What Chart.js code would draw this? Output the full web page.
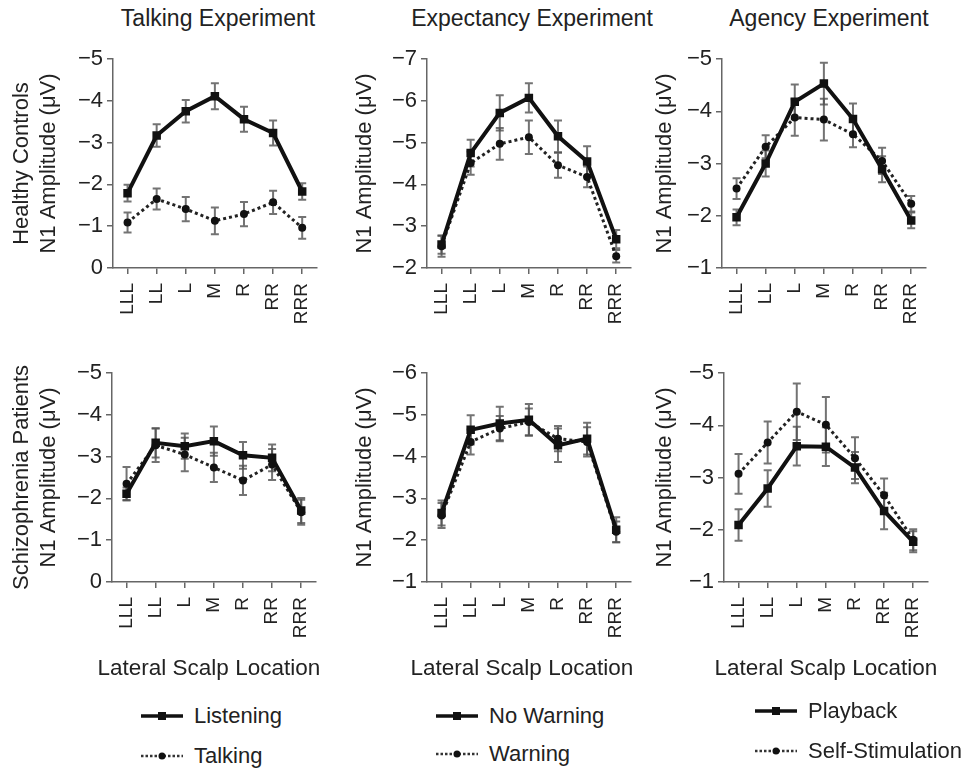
<!DOCTYPE html>
<html>
<head>
<meta charset="utf-8">
<title>N1 amplitude by lateral scalp location</title>
<script src="https://cdn.jsdelivr.net/npm/chart.js@4.4.1/dist/chart.umd.min.js"></script>
<style>
  body { margin: 0; background: #fff; font-family: "Liberation Sans", Arial, sans-serif; color: #222; }
  #wrap { position: relative; width: 969px; height: 768px; overflow: hidden; }
  #wrap canvas { position: absolute; }
  .coltitle { position: absolute; top: 5px; font-size: 23px; white-space: nowrap; transform: translateX(-50%); }
  .leg { position: absolute; height: 30px; line-height: 30px; font-size: 22px; white-space: nowrap; }
  .leg svg { vertical-align: top; margin-right: 11px; }
</style>
</head>
<body>
<div id="wrap">
  <div class="coltitle" style="left:218px">Talking Experiment</div>
  <div class="coltitle" style="left:532px">Expectancy Experiment</div>
  <div class="coltitle" style="left:829px">Agency Experiment</div>
</div>
<script>
// lateral scalp locations (x categories)
var locations = ['LLL', 'LL', 'L', 'M', 'R', 'RR', 'RRR'];

// healthy controls
var hcListening     = [-1.79, -3.17, -3.75, -4.11, -3.56, -3.23, -1.83];
var hcListeningErr  = [0.20, 0.27, 0.27, 0.31, 0.30, 0.30, 0.20];
var hcTalking       = [-1.09, -1.65, -1.41, -1.13, -1.29, -1.57, -0.96];
var hcTalkingErr    = [0.24, 0.25, 0.29, 0.32, 0.29, 0.28, 0.26];

var hcNoWarning     = [-2.56, -4.75, -5.71, -6.07, -5.15, -4.55, -2.69];
var hcNoWarningErr  = [0.22, 0.32, 0.42, 0.35, 0.38, 0.36, 0.22];
var hcWarning       = [-2.52, -4.51, -4.97, -5.13, -4.46, -4.18, -2.28];
var hcWarningErr    = [0.25, 0.28, 0.38, 0.40, 0.30, 0.25, 0.15];

var hcPlayback      = [-1.97, -3.00, -4.18, -4.53, -3.85, -2.89, -1.91];
var hcPlaybackErr   = [0.15, 0.25, 0.33, 0.40, 0.30, 0.25, 0.15];
var hcSelfStim      = [-2.52, -3.32, -3.88, -3.84, -3.56, -3.05, -2.23];
var hcSelfStimErr   = [0.20, 0.22, 0.35, 0.40, 0.25, 0.25, 0.15];

// schizophrenia patients
var szListening     = [-2.11, -3.33, -3.25, -3.37, -3.03, -2.97, -1.71];
var szListeningErr  = [0.15, 0.35, 0.30, 0.35, 0.32, 0.32, 0.30];
var szTalking       = [-2.35, -3.27, -3.05, -2.74, -2.43, -2.81, -1.67];
var szTalkingErr    = [0.40, 0.40, 0.40, 0.35, 0.35, 0.37, 0.30];

var szNoWarning     = [-2.65, -4.64, -4.79, -4.88, -4.27, -4.43, -2.25];
var szNoWarningErr  = [0.30, 0.35, 0.40, 0.38, 0.40, 0.38, 0.30];
var szWarning       = [-2.59, -4.35, -4.67, -4.83, -4.43, -4.35, -2.20];
var szWarningErr    = [0.30, 0.30, 0.30, 0.32, 0.30, 0.35, 0.25];

var szPlayback      = [-2.09, -2.79, -3.60, -3.59, -3.19, -2.36, -1.77];
var szPlaybackErr   = [0.30, 0.35, 0.37, 0.37, 0.30, 0.35, 0.20];
var szSelfStim      = [-3.07, -3.67, -4.26, -4.01, -3.37, -2.66, -1.81];
var szSelfStimErr   = [0.38, 0.40, 0.54, 0.53, 0.40, 0.32, 0.20];

var FONT = '"Liberation Sans", Arial, sans-serif';
var INK = '#222';
var AXIS = '#666';

// error bars drawn under the lines
var errorBars = {
  id: 'errorBars',
  beforeDatasetsDraw: function(chart) {
    var ctx = chart.ctx;
    var yScale = chart.scales.y;
    chart.data.datasets.forEach(function(ds, i) {
      var meta = chart.getDatasetMeta(i);
      ctx.save();
      ctx.strokeStyle = 'rgba(80,80,80,0.8)';
      ctx.lineWidth = 2;
      meta.data.forEach(function(pt, j) {
        var y1 = yScale.getPixelForValue(ds.data[j] - ds.errors[j]);
        var y2 = yScale.getPixelForValue(ds.data[j] + ds.errors[j]);
        ctx.beginPath();
        ctx.moveTo(pt.x, y1); ctx.lineTo(pt.x, y2);
        ctx.moveTo(pt.x - 4, y1); ctx.lineTo(pt.x + 4, y1);
        ctx.moveTo(pt.x - 4, y2); ctx.lineTo(pt.x + 4, y2);
        ctx.stroke();
      });
      ctx.restore();
    });
  }
};

// x caption under the rotated ticks; drawn without the scale's maxWidth squeeze
var xCaption = {
  id: 'xCaption',
  afterDraw: function(chart, args, opts) {
    if (!opts.text) return;
    var ctx = chart.ctx, area = chart.chartArea;
    ctx.save();
    ctx.font = '22.5px ' + FONT;
    ctx.fillStyle = INK;
    ctx.textAlign = 'center';
    ctx.textBaseline = 'middle';
    ctx.fillText(opts.text, (area.left + area.right) / 2 + (opts.dx || 0), area.bottom + 87);
    ctx.restore();
  }
};

function solidSet(label, data, errors) {
  return {
    label: label, data: data, errors: errors,
    borderColor: '#111', borderWidth: 4,
    pointStyle: 'rect', pointRadius: 6, pointBackgroundColor: '#111', pointBorderWidth: 0,
    tension: 0
  };
}
function dottedSet(label, data, errors) {
  return {
    label: label, data: data, errors: errors,
    borderColor: '#222', borderWidth: 3, borderDash: [3, 3],
    pointStyle: 'circle', pointRadius: 4, pointBackgroundColor: '#111', pointBorderWidth: 0,
    tension: 0
  };
}

function minusLabel(v) {
  return v < 0 ? '\u2212' + Math.abs(v) : String(v);
}

function makePanel(p) {
  var canvas = document.createElement('canvas');
  canvas.width = p.width;
  canvas.height = p.height;
  canvas.style.left = p.left + 'px';
  canvas.style.top = p.top + 'px';
  document.getElementById('wrap').appendChild(canvas);

  return new Chart(canvas.getContext('2d'), {
    type: 'line',
    data: { labels: locations, datasets: p.datasets },
    options: {
      responsive: false,
      animation: false,
      layout: { padding: { top: 20, right: 14, left: 0, bottom: 0 } },
      plugins: {
        legend: { display: false },
        tooltip: { enabled: false },
        xCaption: { text: p.xTitle || '', dx: p.captionDx || 0 }
      },
      scales: {
        x: {
          offset: true,
          grid: { offset: false, drawOnChartArea: false, drawTicks: true, tickLength: 6, color: AXIS, lineWidth: 1.5 },
          border: { display: true, color: AXIS, width: 1.5 },
          ticks: { autoSkip: false, minRotation: 90, maxRotation: 90, padding: 9, color: INK, font: { family: FONT, size: 19 } },
          afterFit: function(scale) { scale.height = p.xH; }
        },
        y: {
          reverse: true,
          min: p.min, max: p.max,
          grid: { drawOnChartArea: false, drawTicks: true, tickLength: 6, color: AXIS, lineWidth: 1.5 },
          border: { display: true, color: AXIS, width: 1.5 },
          ticks: { stepSize: 1, padding: 4, color: INK, font: { family: FONT, size: 22 }, callback: minusLabel },
          title: { display: true, text: p.yTitle, color: INK, padding: { top: 9, bottom: 0 }, font: { family: FONT, size: 22 } },
          afterFit: function(scale) { scale.width = p.yW; }
        }
      }
    },
    plugins: [errorBars, xCaption]
  });
}

function markerSvg(ds) {
  var dotted = ds.borderDash && ds.borderDash.length;
  var line = dotted
    ? '<line x1="0" y1="15" x2="42" y2="15" stroke="#333" stroke-width="2.5" stroke-dasharray="2.5,2"/>'
    : '<line x1="0" y1="15" x2="42" y2="15" stroke="#111" stroke-width="3.5"/>';
  var mark = dotted
    ? '<circle cx="21" cy="15" r="3.5" fill="#111"/>'
    : '<rect x="17" y="11" width="8" height="8" fill="#111"/>';
  return '<svg width="42" height="30">' + line + mark + '</svg>';
}

function htmlLegend(chart, left, rowsY) {
  chart.data.datasets.forEach(function(ds, i) {
    var row = document.createElement('div');
    row.className = 'leg';
    row.style.left = left + 'px';
    row.style.top = (rowsY[i] - 15) + 'px';
    row.innerHTML = markerSvg(ds) + '<span>' + ds.label + '</span>';
    document.getElementById('wrap').appendChild(row);
  });
}

var ampTitle = 'N1 Amplitude (\u03bcV)';
var xTitle = 'Lateral Scalp Location';

// top row: healthy controls
makePanel({ left: 0, top: 39, width: 335, height: 291, yW: 113, xH: 62, min: -5, max: 0,
  yTitle: ['Healthy Controls', ampTitle],
  datasets: [solidSet('Listening', hcListening, hcListeningErr), dottedSet('Talking', hcTalking, hcTalkingErr)] });
makePanel({ left: 343, top: 39, width: 306, height: 291, yW: 84, xH: 62, min: -7, max: -2,
  yTitle: ampTitle,
  datasets: [solidSet('No Warning', hcNoWarning, hcNoWarningErr), dottedSet('Warning', hcWarning, hcWarningErr)] });
makePanel({ left: 643, top: 39, width: 301, height: 291, yW: 79, xH: 62, min: -5, max: -1,
  yTitle: ampTitle,
  datasets: [solidSet('Playback', hcPlayback, hcPlaybackErr), dottedSet('Self-Stimulation', hcSelfStim, hcSelfStimErr)] });

// bottom row: schizophrenia patients
var sz1 = makePanel({ left: 0, top: 353, width: 334, height: 329, yW: 112, xH: 100, min: -5, max: 0,
  yTitle: ['Schizophrenia Patients', ampTitle], xTitle: xTitle, captionDx: -5,
  datasets: [solidSet('Listening', szListening, szListeningErr), dottedSet('Talking', szTalking, szTalkingErr)] });
var sz2 = makePanel({ left: 343, top: 353, width: 306, height: 329, yW: 84, xH: 100, min: -6, max: -1,
  yTitle: ampTitle, xTitle: xTitle, captionDx: -7,
  datasets: [solidSet('No Warning', szNoWarning, szNoWarningErr), dottedSet('Warning', szWarning, szWarningErr)] });
var sz3 = makePanel({ left: 643, top: 353, width: 303, height: 329, yW: 81, xH: 100, min: -5, max: -1,
  yTitle: ampTitle, xTitle: xTitle, captionDx: 0,
  datasets: [solidSet('Playback', szPlayback, szPlaybackErr), dottedSet('Self-Stimulation', szSelfStim, szSelfStimErr)] });

htmlLegend(sz1, 141, [716, 756]);
htmlLegend(sz2, 436, [716, 754]);
htmlLegend(sz3, 755, [711, 751]);
</script>
</body>
</html>
